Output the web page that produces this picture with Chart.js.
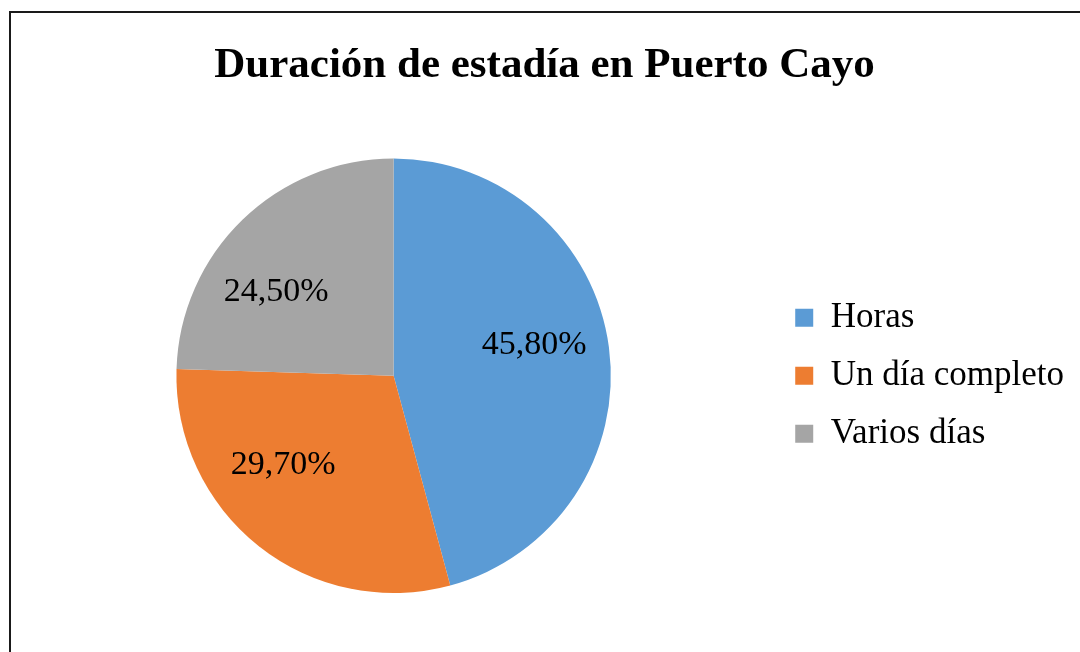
<!DOCTYPE html>
<html>
<head>
<meta charset="utf-8">
<script src="https://cdn.jsdelivr.net/npm/chart.js@4/dist/chart.umd.min.js"></script>
<style>
  html, body { margin: 0; padding: 0; background: #fff; }
  body { width: 1080px; height: 652px; position: relative; overflow: hidden; }
  .frame { position: absolute; left: 9px; top: 11px; width: 1200px; height: 800px;
           border-left: 2px solid #1a1a1a; border-top: 2px solid #1a1a1a; }
  #wrap { position: absolute; left: 0; top: 0; width: 1080px; height: 652px; }
</style>
</head>
<body>
<div class="frame"></div>
<div id="wrap"><canvas id="myChart"></canvas></div>
<script>
const categories = ['Horas', 'Un día completo', 'Varios días'];
const values = [45.8, 29.7, 24.5];
const colors = ['#5B9BD5', '#ED7D31', '#A5A5A5'];
const chartTitle = 'Duración de estadía en Puerto Cayo';

// office "best fit" puts the labels a bit off the middle angle
const labelNudgeDeg = [-4, 12, -11];

// labels inside the slices
const sliceLabels = {
  id: 'sliceLabels',
  afterDatasetsDraw(chart) {
    const ctx = chart.ctx;
    const meta = chart.getDatasetMeta(0);
    ctx.save();
    ctx.font = '34px "Liberation Serif", "Times New Roman", serif';
    ctx.fillStyle = '#000';
    ctx.textAlign = 'center';
    ctx.textBaseline = 'middle';
    meta.data.forEach((arc, i) => {
      const p = arc.getProps(['x', 'y', 'startAngle', 'endAngle', 'outerRadius'], true);
      const mid = (p.startAngle + p.endAngle) / 2 + labelNudgeDeg[i] * Math.PI / 180;
      const r = p.outerRadius * 0.66;
      const txt = values[i].toFixed(2).replace('.', ',') + '%';
      ctx.fillText(txt, p.x + Math.cos(mid) * r, p.y + Math.sin(mid) * r - 2);
    });
    ctx.restore();
  }
};

const ctx = document.getElementById('myChart');
new Chart(ctx, {
  type: 'pie',
  data: {
    labels: categories,
    datasets: [{
      data: values,
      backgroundColor: colors,
      borderWidth: 0
    }]
  },
  options: {
    responsive: true,
    maintainAspectRatio: false,
    animation: false,
    layout: { padding: { left: 15, right: 6, top: 0, bottom: 59 } },
    plugins: {
      title: {
        display: true,
        text: chartTitle,
        color: '#000',
        font: { family: '"Liberation Serif", "Times New Roman", serif', size: 43, weight: 'bold' },
        padding: { top: 40, bottom: 67 }
      },
      legend: {
        position: 'right',
        fullSize: false,
        labels: {
          color: '#000',
          boxWidth: 18,
          boxHeight: 18,
          padding: 23,
          font: { family: '"Liberation Serif", "Times New Roman", serif', size: 35 }
        }
      },
      tooltip: { enabled: false }
    }
  },
  plugins: [sliceLabels]
});
</script>
</body>
</html>
